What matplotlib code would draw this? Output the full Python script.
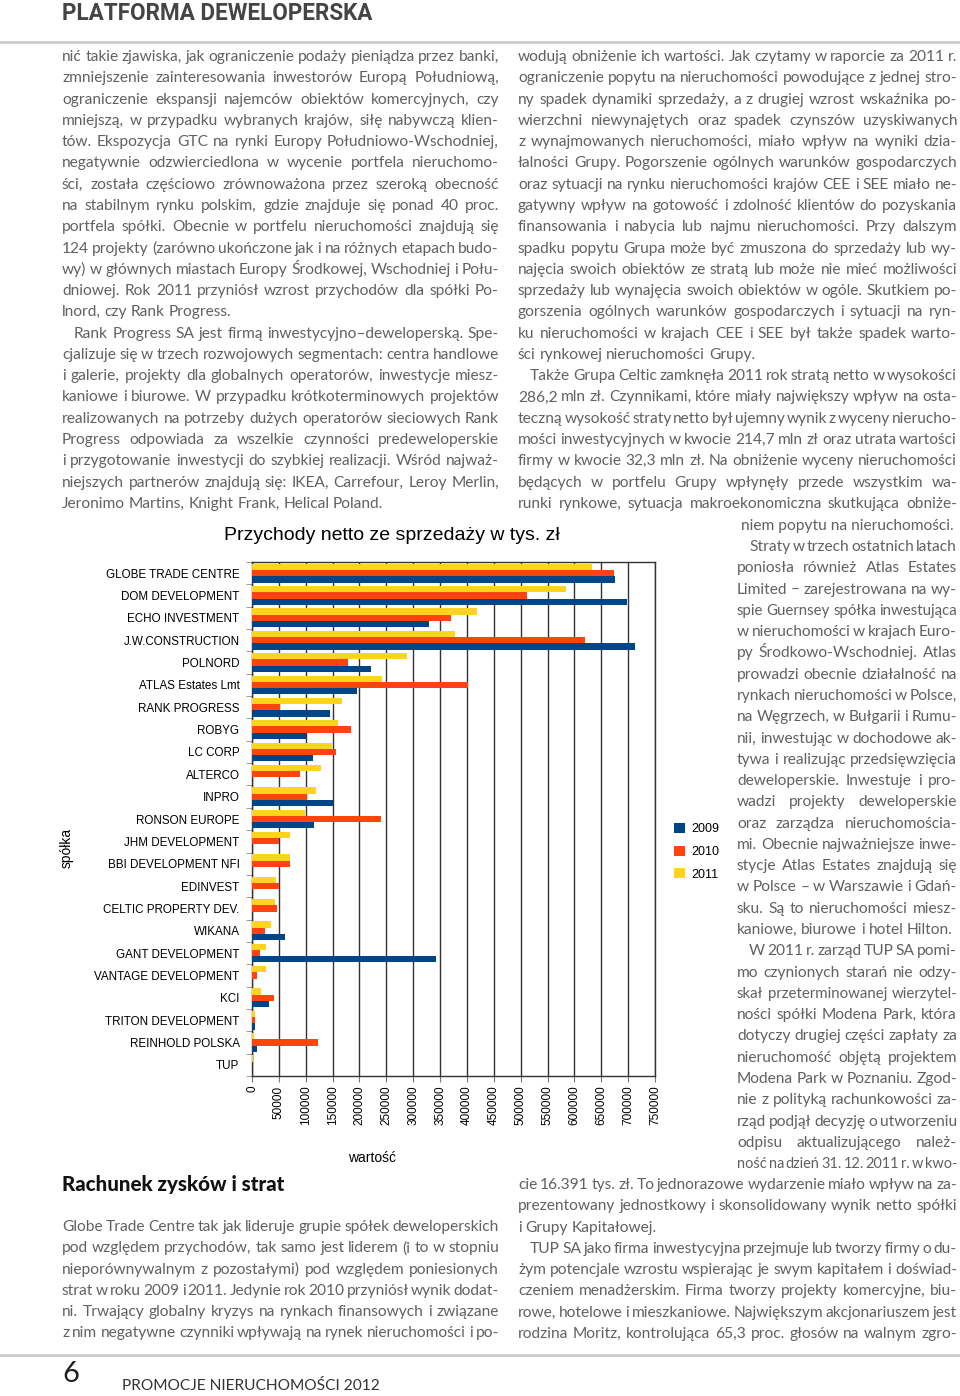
import numpy as np
import matplotlib
matplotlib.use("Agg")
import matplotlib.pyplot as plt

# --- chart data (tys. zł) ---
COMPANIES = ["GLOBE TRADE CENTRE", "DOM DEVELOPMENT", "ECHO INVESTMENT", "J.W.CONSTRUCTION",
             "POLNORD", "ATLAS Estates Lmt", "RANK PROGRESS", "ROBYG", "LC CORP", "ALTERCO",
             "INPRO", "RONSON EUROPE", "JHM DEVELOPMENT", "BBI DEVELOPMENT NFI", "EDINVEST",
             "CELTIC PROPERTY DEV.", "WIKANA", "GANT DEVELOPMENT", "VANTAGE DEVELOPMENT", "KCI",
             "TRITON DEVELOPMENT", "REINHOLD POLSKA", "TUP"]
REV_2009 = [675000, 698500, 329600, 712000, 221000, 195000, 145000, 101000, 113000, 0,
            150000, 116000, 0, 0, 0, 0, 61000, 342000, 0, 31200, 5000, 9400, 500]
REV_2010 = [674000, 512600, 371000, 619000, 179000, 402000, 52000, 184000, 156000, 90000,
            103000, 241000, 51000, 70000, 51000, 46500, 24000, 14500, 8700, 41400, 6500, 122700, 500]
REV_2011 = [633000, 584500, 418000, 378000, 289000, 242000, 168000, 160000, 148000, 128500,
            120000, 98000, 70000, 70000, 45000, 42000, 35600, 25400, 25400, 16000, 5000, 4400, 1000]
YEARS = ["2009", "2010", "2011"]
COLORS = ["#004586", "#ff420e", "#ffd320"]

# --- article text; ">" = indented first line, "|" = last line of paragraph ---
LEFT_TOP = [
    "nić takie zjawiska, jak ograniczenie podaży pieniądza przez banki,",
    "zmniejszenie zainteresowania inwestorów Europą Południową,",
    "ograniczenie ekspansji najemców obiektów komercyjnych, czy",
    "mniejszą, w przypadku wybranych krajów, siłę nabywczą klien-",
    "tów. Ekspozycja GTC na rynki Europy Południowo-Wschodniej,",
    "negatywnie odzwierciedlona w wycenie portfela nieruchomo-",
    "ści, została częściowo zrównoważona przez szeroką obecność",
    "na stabilnym rynku polskim, gdzie znajduje się ponad 40 proc.",
    "portfela spółki. Obecnie w portfelu nieruchomości znajdują się",
    "124 projekty (zarówno ukończone jak i na różnych etapach budo-",
    "wy) w głównych miastach Europy Środkowej, Wschodniej i Połu-",
    "dniowej. Rok 2011 przyniósł wzrost przychodów dla spółki Po-",
    "lnord, czy Rank Progress.|",
    ">Rank Progress SA jest firmą inwestycyjno–deweloperską. Spe-",
    "cjalizuje się w trzech rozwojowych segmentach: centra handlowe",
    "i galerie, projekty dla globalnych operatorów, inwestycje miesz-",
    "kaniowe i biurowe. W przypadku krótkoterminowych projektów",
    "realizowanych na potrzeby dużych operatorów sieciowych Rank",
    "Progress odpowiada za wszelkie czynności predeweloperskie",
    "i przygotowanie inwestycji do szybkiej realizacji. Wśród najważ-",
    "niejszych partnerów znajdują się: IKEA, Carrefour, Leroy Merlin,",
    "Jeronimo Martins, Knight Frank, Helical Poland.|",
]
LEFT_BOTTOM = [
    "Globe Trade Centre tak jak lideruje grupie spółek deweloperskich",
    "pod względem przychodów, tak samo jest liderem (i to w stopniu",
    "nieporównywalnym z pozostałymi) pod względem poniesionych",
    "strat w roku 2009 i 2011. Jedynie rok 2010 przyniósł wynik dodat-",
    "ni. Trwający globalny kryzys na rynkach finansowych i związane",
    "z nim negatywne czynniki wpływają na rynek nieruchomości i po-",
]
RIGHT_TOP = [
    "wodują obniżenie ich wartości. Jak czytamy w raporcie za 2011 r.",
    "ograniczenie popytu na nieruchomości powodujące z jednej stro-",
    "ny spadek dynamiki sprzedaży, a z drugiej wzrost wskaźnika po-",
    "wierzchni niewynajętych oraz spadek czynszów uzyskiwanych",
    "z wynajmowanych nieruchomości, miało wpływ na wyniki dzia-",
    "łalności Grupy. Pogorszenie ogólnych warunków gospodarczych",
    "oraz sytuacji na rynku nieruchomości krajów CEE i SEE miało ne-",
    "gatywny wpływ na gotowość i zdolność klientów do pozyskania",
    "finansowania i nabycia lub najmu nieruchomości. Przy dalszym",
    "spadku popytu Grupa może być zmuszona do sprzedaży lub wy-",
    "najęcia swoich obiektów ze stratą lub może nie mieć możliwości",
    "sprzedaży lub wynajęcia swoich obiektów w ogóle. Skutkiem po-",
    "gorszenia ogólnych warunków gospodarczych i sytuacji na ryn-",
    "ku nieruchomości w krajach CEE i SEE był także spadek warto-",
    "ści rynkowej nieruchomości Grupy.|",
    ">Także Grupa Celtic zamknęła 2011 rok stratą netto w wysokości",
    "286,2 mln zł. Czynnikami, które miały największy wpływ na osta-",
    "teczną wysokość straty netto był ujemny wynik z wyceny nierucho-",
    "mości inwestycyjnych w kwocie 214,7 mln zł oraz utrata wartości",
    "firmy w kwocie 32,3 mln zł. Na obniżenie wyceny nieruchomości",
    "będących w portfelu Grupy wpłynęły przede wszystkim wa-",
    "runki rynkowe, sytuacja makroekonomiczna skutkująca obniże-",
]
RIGHT_WRAP = "niem popytu na nieruchomości."
NARROW = [
    ">Straty w trzech ostatnich latach",
    "poniosła również Atlas Estates",
    "Limited – zarejestrowana na wy-",
    "spie Guernsey spółka inwestująca",
    "w nieruchomości w krajach Euro-",
    "py Środkowo-Wschodniej. Atlas",
    "prowadzi obecnie działalność na",
    "rynkach nieruchomości w Polsce,",
    "na Węgrzech, w Bułgarii i Rumu-",
    "nii, inwestując w dochodowe ak-",
    "tywa i realizując przedsięwzięcia",
    "deweloperskie. Inwestuje i pro-",
    "wadzi projekty deweloperskie",
    "oraz zarządza nieruchomościa-",
    "mi. Obecnie najważniejsze inwe-",
    "stycje Atlas Estates znajdują się",
    "w Polsce – w Warszawie i Gdań-",
    "sku. Są to nieruchomości miesz-",
    "kaniowe, biurowe i hotel Hilton.|",
    ">W 2011 r. zarząd TUP SA pomi-",
    "mo czynionych starań nie odzy-",
    "skał przeterminowanej wierzytel-",
    "ności spółki Modena Park, która",
    "dotyczy drugiej części zapłaty za",
    "nieruchomość objętą projektem",
    "Modena Park w Poznaniu. Zgod-",
    "nie z polityką rachunkowości za-",
    "rząd podjął decyzję o utworzeniu",
    "odpisu aktualizującego należ-",
    "ność na dzień 31. 12. 2011 r. w kwo-",
]
RIGHT_BOTTOM = [
    "cie 16.391 tys. zł. To jednorazowe wydarzenie miało wpływ na za-",
    "prezentowany jednostkowy i skonsolidowany wynik netto spółki",
    "i Grupy Kapitałowej.|",
    ">TUP SA jako firma inwestycyjna przejmuje lub tworzy firmy o du-",
    "żym potencjale wzrostu wspierając je swym kapitałem i doświad-",
    "czeniem menadżerskim. Firma tworzy projekty komercyjne, biu-",
    "rowe, hotelowe i mieszkaniowe. Największym akcjonariuszem jest",
    "rodzina Moritz, kontrolująca 65,3 proc. głosów na walnym zgro-",
]

W, H = 960, 1396
LINE_H = 21.28
BODY = dict(family="Lato", color="#616161")
ARIAL = "Liberation Sans"

fig = plt.figure(figsize=(W / 100, H / 100), dpi=100)
fig.patch.set_facecolor("white")
renderer = fig.canvas.get_renderer()


def fx(x):
    return x / W


def fy(y):
    return 1 - y / H


def measure(s, size, **kw):
    t = fig.text(0, 0, s, fontsize=size, **kw)
    w = t.get_window_extent(renderer).width
    t.remove()
    return w


def fit_text(x, y, s, width, **kw):
    size = 10 * width / measure(s, 10, **kw)
    fig.text(fx(x), fy(y), s, fontsize=size, va="center", ha="left", **kw)


def clean(line, x0):
    justify = not line.endswith("|")
    line = line.rstrip("|")
    if line.startswith(">"):
        line = line[1:]
        x0 += 12
    return line, x0, justify


# one body size for the whole page, chosen so justified lines get natural spacing
blocks = [(LEFT_TOP, 62, 499), (LEFT_BOTTOM, 62, 499), (RIGHT_TOP, 518, 957),
          (NARROW, 737, 957), (RIGHT_BOTTOM, 518, 957)]
ratios = []
for lines, x0, x1 in blocks:
    for ln in lines:
        s, a, just = clean(ln, x0)
        if just:
            ratios.append((x1 - a) / measure(s, 10, **BODY))
BODY_SIZE = 10 * np.median(ratios) * 0.995


def draw_line(line, x0, x1, y, size=None):
    s, x0, justify = clean(line, x0)
    size = size or BODY_SIZE
    nat_space = 0.24 * size * 100 / 72
    words = s.split()
    texts = [fig.text(0, fy(y + 4), w, fontsize=size, va="baseline", ha="left", **BODY)
             for w in words]
    widths = [t.get_window_extent(renderer).width for t in texts]
    gap = nat_space
    if justify and len(words) > 1:
        gap = (x1 - x0 - sum(widths)) / (len(words) - 1)
        if gap < 0.45 * nat_space:
            for t in texts:
                t.remove()
            x_start = x0 - 12 if line.startswith(">") else x0
            return draw_line(line, x_start, x1, y, size * 0.97)
    x = x0
    for t, w in zip(texts, widths):
        t.set_x(fx(x))
        x += w + gap


def draw_block(lines, x0, x1, y0):
    for i, ln in enumerate(lines):
        draw_line(ln, x0, x1, y0 + i * LINE_H)


draw_block(LEFT_TOP, 62, 499, 57)
draw_block(RIGHT_TOP, 518, 957, 57)
fig.text(fx(954), fy(526 + 4), RIGHT_WRAP, fontsize=BODY_SIZE, va="baseline", ha="right", **BODY)
draw_block(NARROW, 737, 957, 547)
draw_block(RIGHT_BOTTOM, 518, 957, 1185)
draw_block(LEFT_BOTTOM, 62, 499, 1227)

# page furniture
fit_text(62, 13.5, "PLATFORMA DEWELOPERSKA", 311, family="Roboto", weight="bold", color="#444444")
fig.add_artist(plt.Line2D([0, 1], [fy(42), fy(42)], color="#cccccc", lw=2))
fig.add_artist(plt.Line2D([0, 1], [fy(1355), fy(1355)], color="#cccccc", lw=2))
fit_text(62, 1374, "6", 17, family="Lato", color="#222222")
fit_text(122, 1386, "PROMOCJE NIERUCHOMOŚCI 2012", 256, family="Lato", color="#333333")
fit_text(62, 1185, "Rachunek zysków i strat", 223, family="Lato", weight="black", color="#111111")

# --- chart ---
ax = fig.add_axes([fx(252), fy(1076), (655 - 252) / W, (1076 - 562) / H])
y = np.arange(len(COMPANIES))
bh = 0.28
handles = []
for off, vals, col, lab in [(bh, REV_2009, COLORS[0], YEARS[0]),
                            (0, REV_2010, COLORS[1], YEARS[1]),
                            (-bh, REV_2011, COLORS[2], YEARS[2])]:
    handles.append(ax.barh(y + off, vals, height=bh, color=col, label=lab, zorder=3))

ax.set_xlim(0, 750000)
ax.set_ylim(len(COMPANIES) - 0.5, -0.5)
ticks = np.arange(0, 750001, 50000)
ax.set_xticks(ticks)
ax.set_xticklabels([str(t) for t in ticks], rotation=90, fontsize=8.5, family=ARIAL)
ax.tick_params(axis="x", length=4, pad=3, color="#777777")
ax.set_yticks(y)
ax.set_yticklabels(COMPANIES, fontsize=8.4, family=ARIAL)
ax.set_yticks(np.arange(-0.5, len(COMPANIES)), minor=True)
ax.tick_params(axis="y", which="major", length=0, pad=9)
ax.tick_params(axis="y", which="minor", length=4, color="#888888")
ax.grid(axis="x", color="#333333", lw=1)
ax.set_axisbelow(True)
for sp in ax.spines.values():
    sp.set_color("#333333")
    sp.set_linewidth(1)

fig.text(fx(392), fy(536), "Przychody netto ze sprzedaży w tys. zł", fontsize=14,
         family=ARIAL, ha="center", va="center")
fig.text(fx(67), fy(848), "spółka", fontsize=10, family=ARIAL, rotation=90,
         ha="center", va="center")
fig.text(fx(372), fy(1158), "wartość", fontsize=10, family=ARIAL, ha="center", va="center")
fig.legend(handles=handles, loc="upper left", bbox_to_anchor=(fx(674), fy(823)),
           frameon=False, prop={"family": ARIAL, "size": 9}, handlelength=0.9,
           handleheight=0.9, handletextpad=0.5, labelspacing=0.8,
           borderpad=0, borderaxespad=0)

fig.savefig("out.png", dpi=100)
